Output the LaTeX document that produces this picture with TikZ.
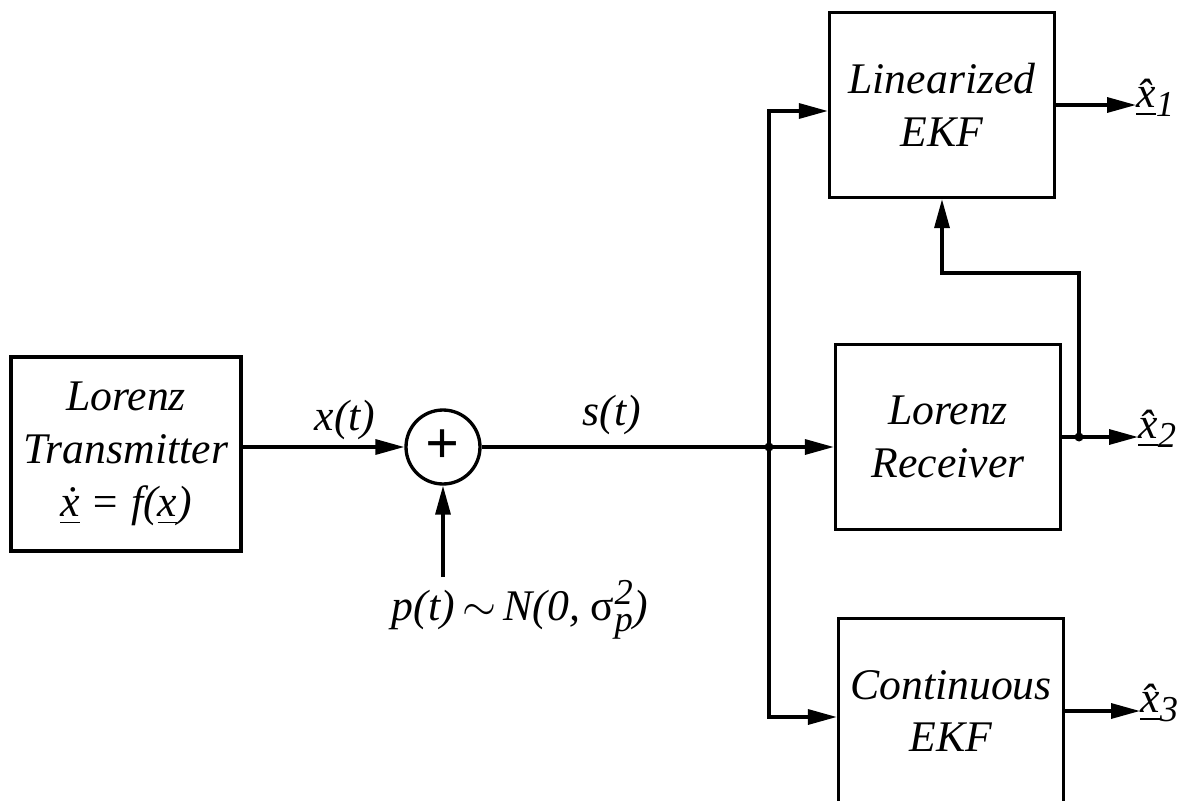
\documentclass[tikz,border=0pt]{standalone}
\usepackage{fontspec}
\setmainfont{Liberation Serif}
\usepackage{amsmath}
\usetikzlibrary{arrows.meta, positioning, calc}
\tikzstyle{block} = [rectangle, draw=black, line width=1.9pt, minimum width=4.5cm, minimum height=3.7cm, align=center, font=\Huge\itshape]
\tikzstyle{adder} = [circle, draw=black, line width=1.9pt, minimum size=1.48cm, inner sep=0pt, font=\fontsize{34}{34}\selectfont\bfseries]
\tikzstyle{arrow} = [line width=1.9pt, -{Triangle[length=0.58cm, width=0.3cm]}]
\tikzstyle{wire} = [line width=1.9pt]
\tikzstyle{lbl} = [font=\Huge\itshape, inner sep=0pt]
\tikzstyle{junct} = [circle, fill=black, inner sep=0pt, minimum size=0.18cm]
\newcommand{\xest}[1]{\underline{\^{x}}\textsubscript{#1}}

\begin{document}
\begin{tikzpicture}[x=0.02cm, y=-0.02cm]
    \useasboundingbox (0,0) rectangle (1181,801);
    \node (tx) [block, minimum width=4.6cm, minimum height=3.88cm] at (126,454) {Lorenz\\Transmitter\\\underline{\.{x}} = f(\underline{x})};
    \node (sum) [adder] at (443,447) {+};
    \node (lin) [block] at (942,105) {Linearized\\EKF};
    \node (rcv) [block] at (948,437) {Lorenz\\Receiver};
    \node (cont) [block] at (951,711) {Continuous\\EKF};

    \node (xt) [lbl] at (345,420) {x(t)};
    \node (st) [lbl] at (612,415) {s(t)};
    \node (noise) [lbl] at (520,610) {p(t)\,$\sim$\,N(0, {\upshape σ}$^{\textit{2}}_{\textit{p}}$)};
    \node (x1) [lbl, anchor=west] at (1136,98) {\xest{1}};
    \node (x2) [lbl, anchor=west] at (1138,429) {\xest{2}};
    \node (x3) [lbl, anchor=west] at (1140,703) {\xest{3}};

    \coordinate (pin) at (443,577);
    \coordinate (split) at (769,447);
    \coordinate (tap) at (1079,437);
    \coordinate (fb) at (1079,273);

    \draw [arrow] (sum.west -| tx.east) -- (sum.west);
    \draw [arrow] (pin) -- (sum.south);
    \draw [wire] (sum.east) -- (split);
    \draw [arrow] (split) -- (split -| rcv.west);
    \draw [arrow] (split) |- ([yshift=-0.12cm]lin.west);
    \draw [arrow] (split) |- ([yshift=-0.12cm]cont.west);
    \draw [arrow] (lin.east) -- (lin.east -| x1.west);
    \draw [arrow] (rcv.east) -- (rcv.east -| x2.west);
    \draw [arrow] (tap) -- (fb) -| (lin.south);
    \draw [arrow] (cont.east) -- (cont.east -| x3.west);
    \node [junct] at (split) {};
    \node [junct] at (tap) {};
\end{tikzpicture}
\end{document}
